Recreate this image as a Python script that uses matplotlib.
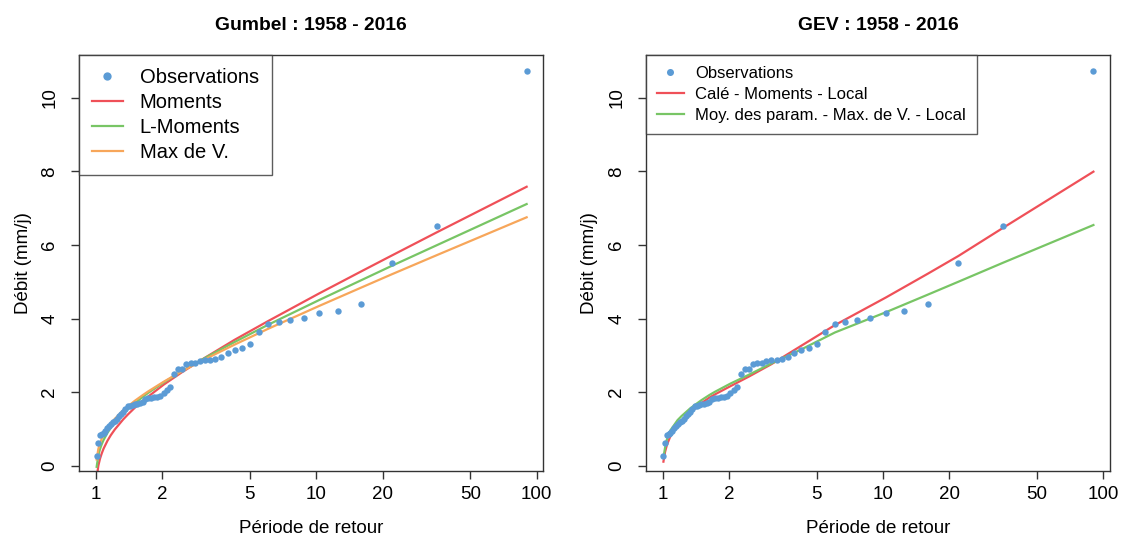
import matplotlib
matplotlib.use("Agg")
import matplotlib.pyplot as plt
from matplotlib.ticker import FixedLocator, NullLocator

plt.rcParams["font.family"] = ["Liberation Sans", "DejaVu Sans"]

# observed return periods (years) and discharges, ranked high to low
obs_T = [90.1, 35.2, 22.0, 16.0, 12.5, 10.3, 8.76, 7.63, 6.75, 6.05,
         5.48, 5.00, 4.60, 4.26, 3.96, 3.71, 3.49, 3.29, 3.12, 2.96,
         2.82, 2.69, 2.57, 2.46, 2.36, 2.27, 2.18, 2.10, 2.03, 1.96,
         1.90, 1.84, 1.78, 1.73, 1.68, 1.63, 1.59, 1.54, 1.50, 1.47,
         1.43, 1.40, 1.36, 1.33, 1.30, 1.28, 1.25, 1.22, 1.20, 1.17,
         1.15, 1.13, 1.105, 1.085, 1.065, 1.045, 1.027, 1.009]
obs_Q = [10.73, 6.52, 5.51, 4.39, 4.21, 4.15, 4.01, 3.97, 3.91, 3.85,
         3.64, 3.30, 3.21, 3.14, 3.05, 2.96, 2.90, 2.87, 2.86, 2.85,
         2.80, 2.78, 2.77, 2.63, 2.62, 2.48, 2.14, 2.05, 1.97, 1.90,
         1.88, 1.86, 1.85, 1.84, 1.80, 1.72, 1.71, 1.69, 1.68, 1.64,
         1.63, 1.62, 1.55, 1.47, 1.40, 1.34, 1.28, 1.22, 1.18, 1.13,
         1.08, 1.03, 0.95, 0.90, 0.87, 0.83, 0.62, 0.27]

# return periods where the fitted curves were read
curve_T = [1.009, 1.027, 1.045, 1.065, 1.085, 1.13, 1.17, 1.22, 1.33, 1.4,
           1.5, 1.63, 1.73, 2.03, 2.46, 3.12, 4.26, 6.05, 10.3, 16.0,
           22.0, 35.2, 90.1]

gum_moments = [-0.34, 0.00, 0.19, 0.34, 0.465, 0.68, 0.83, 0.985, 1.255, 1.395,
               1.57, 1.76, 1.88, 2.20, 2.54, 2.93, 3.42, 3.93, 4.68, 5.28,
               5.71, 6.34, 7.58]
gum_lmoments = [-0.03, 0.28, 0.45, 0.59, 0.70, 0.895, 1.03, 1.17, 1.41, 1.54,
                1.69, 1.865, 1.98, 2.26, 2.57, 2.925, 3.36, 3.83, 4.50, 5.04,
                5.43, 5.99, 7.11]
gum_maxv = [0.17, 0.455, 0.61, 0.74, 0.84, 1.02, 1.145, 1.275, 1.50, 1.615,
            1.76, 1.915, 2.02, 2.28, 2.57, 2.89, 3.29, 3.72, 4.34, 4.84,
            5.20, 5.72, 6.75]

gev_cale = [0.11, 0.38, 0.55, 0.68, 0.80, 0.98, 1.10, 1.22, 1.44, 1.55,
            1.70, 1.85, 1.94, 2.16, 2.42, 2.76, 3.26, 3.82, 4.57, 5.22,
            5.70, 6.47, 7.99]
gev_moy = [0.22, 0.50, 0.70, 0.85, 0.96, 1.11, 1.24, 1.35, 1.55, 1.65,
           1.78, 1.92, 2.01, 2.23, 2.47, 2.78, 3.16, 3.62, 4.17, 4.65,
           5.00, 5.52, 6.54]

x_ticks = [1, 2, 5, 10, 20, 50, 100]
y_ticks = [0, 2, 4, 6, 8, 10]

BLUE = "#5b9bd5"
RED = "#ef5058"
GREEN = "#78c565"
ORANGE = "#f7a65a"
EDGE = "#333333"
FS = 13.5


def style_axes(ax, title):
    ax.set_xscale("log")
    ax.set_xlim(10 ** -0.075, 10 ** 2.03)
    ax.set_ylim(-0.144, 11.16)
    ax.xaxis.set_major_locator(FixedLocator(x_ticks))
    ax.xaxis.set_minor_locator(NullLocator())
    ax.set_xticklabels([str(t) for t in x_ticks])
    ax.set_yticks(y_ticks)
    ax.set_yticklabels([str(t) for t in y_ticks], rotation=90, va="center")
    ax.tick_params(direction="out", length=6, width=1, color=EDGE,
                   labelsize=FS)
    ax.tick_params(axis="x", pad=5)
    ax.tick_params(axis="y", pad=9)
    for sp in ax.spines.values():
        sp.set_color(EDGE)
        sp.set_linewidth(1)
    ax.set_xlabel("Période de retour", fontsize=FS, labelpad=12)
    ax.set_ylabel("Débit (mm/j)", fontsize=FS, labelpad=7)
    ax.set_title(title, fontsize=13.9, fontweight="bold", pad=18)


def framed_legend(ax, order, **kw):
    h, l = ax.get_legend_handles_labels()
    leg = ax.legend([h[i] for i in order], [l[i] for i in order],
                    loc="upper left", frameon=True, fancybox=False,
                    borderaxespad=0, **kw)
    leg.get_frame().set_edgecolor(EDGE)
    leg.get_frame().set_linewidth(1)
    return leg


fig = plt.figure(figsize=(11.21, 5.35), dpi=100)
ax1 = fig.add_axes([0.0707, 0.1196, 0.4139, 0.7776])
ax2 = fig.add_axes([0.5763, 0.1196, 0.4139, 0.7776])

# Gumbel panel
ax1.plot(curve_T, gum_moments, color=RED, lw=1.6, label="Moments")
ax1.plot(curve_T, gum_lmoments, color=GREEN, lw=1.6, label="L-Moments")
ax1.plot(curve_T, gum_maxv, color=ORANGE, lw=1.6, label="Max de V.")
ax1.plot(obs_T, obs_Q, "o", color=BLUE, ms=4.6, mec="none", label="Observations")
style_axes(ax1, "Gumbel : 1958 - 2016")
framed_legend(ax1, [3, 0, 1, 2], fontsize=14.5, handlelength=1.5,
              handletextpad=0.85, labelspacing=0.3, borderpad=0.65,
              markerscale=1.3)

# GEV panel
ax2.plot(curve_T, gev_cale, color=RED, lw=1.6, label="Calé - Moments - Local")
ax2.plot(curve_T, gev_moy, color=GREEN, lw=1.6,
         label="Moy. des param. - Max. de V. - Local")
ax2.plot(obs_T, obs_Q, "o", color=BLUE, ms=4.6, mec="none", label="Observations")
style_axes(ax2, "GEV : 1958 - 2016")
framed_legend(ax2, [2, 0, 1], fontsize=12, handlelength=1.6,
              handletextpad=0.7, labelspacing=0.36, borderpad=0.65,
              markerscale=1.1)

fig.savefig("out.png", dpi=100, facecolor="white")
